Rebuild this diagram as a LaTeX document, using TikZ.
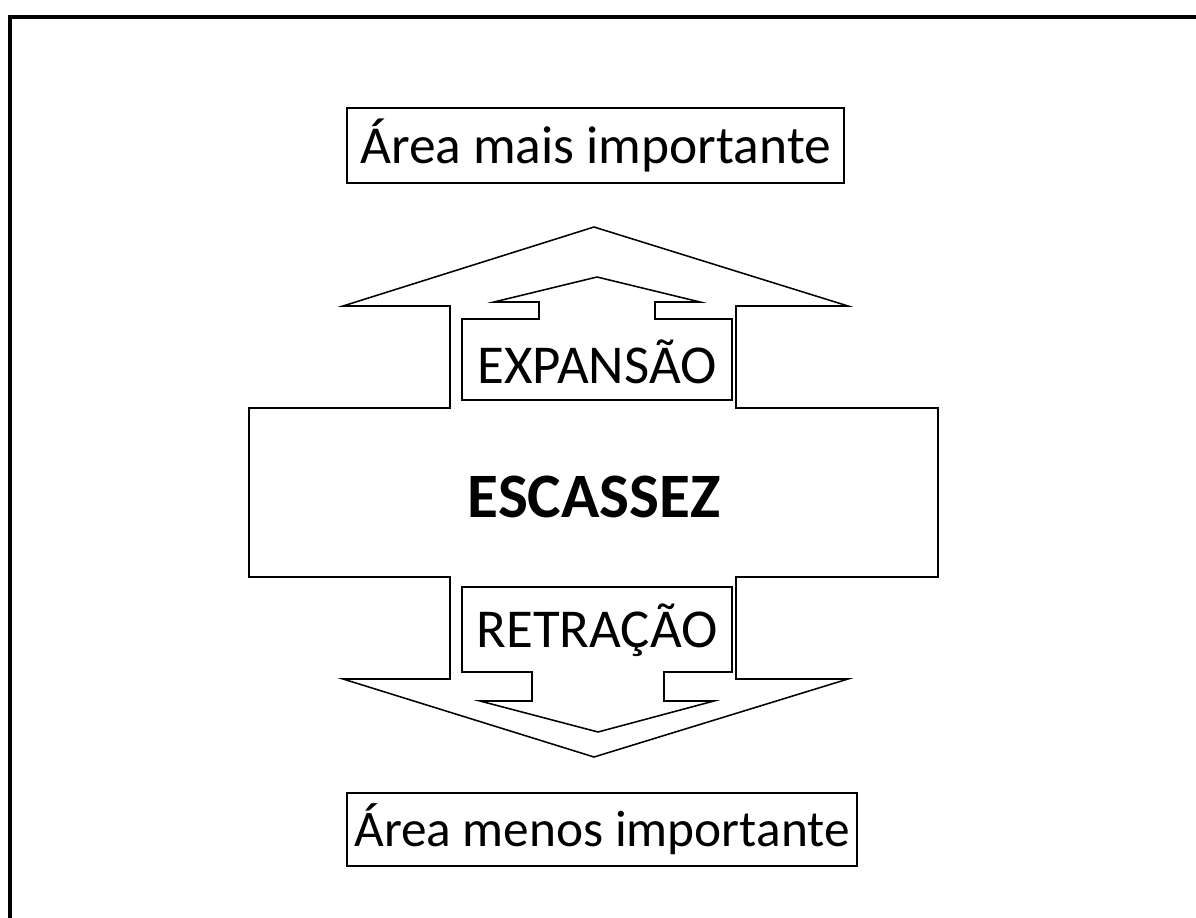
\documentclass[tikz,border=0pt]{standalone}
\usepackage{fontspec}
\setmainfont{Carlito}
\usepackage{tikz}

\tikzset{
  areabox/.style={draw, line width=0.9pt, rectangle, inner sep=0pt, font=\fontsize{38}{41}\selectfont},
  arrowline/.style={draw, line width=1.1pt, line join=miter},
  arrowtext/.style={inner sep=0pt, font=\fontsize{39}{42}\selectfont}
}

\begin{document}
\begin{tikzpicture}[x=0.025cm, y=-0.025cm]
				\useasboundingbox (0,0) rectangle (1196,918);
				\draw[line width=2.2pt] (10,925) -- (10,17) -- (1205,17);
				% outer double arrow
				\draw[arrowline] (594,227) -- (848,306) -- (736,306) -- (736,408) -- (938,408) -- (938,577)
					-- (736,577) -- (736,679) -- (848,679) -- (594,757) -- (343,679) -- (450,679) -- (450,577)
					-- (249,577) -- (249,408) -- (450,408) -- (450,306) -- (343,306) -- cycle;
				% inner arrow up
				\draw[arrowline] (597,277) -- (700,302) -- (655,302) -- (655,319) -- (732,319) -- (732,400)
					-- (462,400) -- (462,319) -- (539,319) -- (539,302) -- (494,302) -- cycle;
				% inner arrow down
				\draw[arrowline] (462,587) -- (732,587) -- (732,672) -- (664,672) -- (664,701) -- (714,701)
					-- (598,732) -- (480,701) -- (532,701) -- (532,672) -- (462,672) -- cycle;
				\node[areabox, minimum width=12.425cm, minimum height=1.875cm] (maisimp) at (595.5,145.5) {Área mais importante};
				\node[areabox, minimum width=12.75cm, minimum height=1.825cm, font=\fontsize{36.5}{40}\selectfont] (menosimp) at (602,829.5) {Área menos importante};
				\node[arrowtext] (expansao) at (597,362) {EXPANSÃO};
				\node[arrowtext] (escassez) at (594,497) {\fontsize{45}{49}\selectfont\bfseries ESCASSEZ};
				\node[arrowtext] (retracao) at (597,630) {RETRAÇÃO};
			\end{tikzpicture}
\end{document}
